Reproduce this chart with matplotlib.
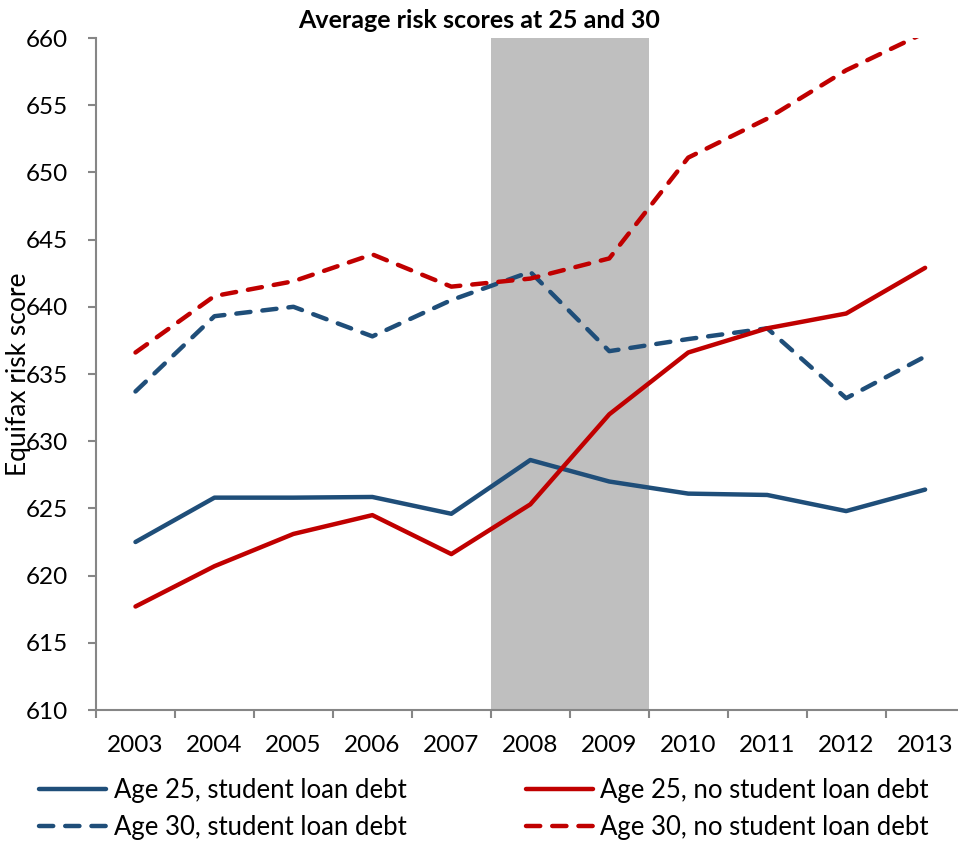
import matplotlib.pyplot as plt
from matplotlib.ticker import FixedLocator, NullFormatter

plt.rcParams['font.family'] = ['Lato', 'DejaVu Sans']

# Data
years = ['2003', '2004', '2005', '2006', '2007', '2008', '2009', '2010', '2011', '2012', '2013']
age25_debt = [622.5, 625.8, 625.8, 625.85, 624.6, 628.6, 627.0, 626.1, 626.0, 624.8, 626.4]
age25_nodebt = [617.7, 620.7, 623.1, 624.5, 621.6, 625.3, 632.0, 636.6, 638.4, 639.5, 642.9]
age30_debt = [633.7, 639.3, 640.0, 637.8, 640.5, 642.6, 636.7, 637.6, 638.4, 633.2, 636.3]
age30_nodebt = [636.6, 640.8, 641.9, 643.9, 641.5, 642.1, 643.6, 651.1, 654.0, 657.6, 660.4]
recession = ['2008', '2009']

blue = '#1F4E79'
red = '#C00000'
gray = '#868686'

fig = plt.figure(figsize=(9.58, 8.41), dpi=100)
ax = fig.add_axes([96 / 958, 131 / 841, 868.6 / 958, 672 / 841])

x = list(range(len(years)))
i0 = years.index(recession[0])
i1 = years.index(recession[-1])
ax.axvspan(i0 - 0.5, i1 + 0.5, color='#BFBFBF', lw=0, zorder=0)

lw = 3.2
dash = (3.2, 2.7)
ax.plot(x, age25_debt, color=blue, lw=lw, solid_capstyle='round', label='Age 25, student loan debt')
ax.plot(x, age30_debt, color=blue, lw=lw, dashes=dash, dash_capstyle='round', label='Age 30, student loan debt')
ax.plot(x, age25_nodebt, color=red, lw=lw, solid_capstyle='round', label='Age 25, no student loan debt')
ax.plot(x, age30_nodebt, color=red, lw=lw, dashes=dash, dash_capstyle='round', label='Age 30, no student loan debt')

ax.set_xlim(-0.5, len(years) - 0.5)
ax.set_ylim(610, 660)
ax.set_yticks(range(610, 661, 5))

# category ticks between labels, labels at centers
ax.xaxis.set_major_locator(FixedLocator([i - 0.5 for i in range(len(years) + 1)]))
ax.xaxis.set_major_formatter(NullFormatter())
ax.xaxis.set_minor_locator(FixedLocator(x))
ax.set_xticklabels(years, minor=True)
ax.tick_params(axis='x', which='major', length=6, width=1.5, color=gray)
ax.tick_params(axis='x', which='minor', length=0, pad=18, labelsize=17.5)
ax.tick_params(axis='y', length=6, width=1.5, color=gray, pad=14, labelsize=17.5)

for s in ['top', 'right']:
    ax.spines[s].set_visible(False)
for s in ['left', 'bottom']:
    ax.spines[s].set_color(gray)
    ax.spines[s].set_linewidth(1.5)

fig.text(0.5, 1 - 20 / 841, 'Average risk scores at 25 and 30', ha='center', va='center',
         fontsize=18, fontweight='bold')
fig.text(19 / 958, 1 - 374 / 841, 'Equifax risk score', rotation=90, ha='center', va='center',
         fontsize=19)

fig.legend(loc='center left', bbox_to_anchor=(39 / 958, 1 - 809 / 841), ncol=2, frameon=False,
           fontsize=18.5, handlelength=2.6, handletextpad=0.3, columnspacing=4.65,
           labelspacing=0.48, borderpad=0, borderaxespad=0)

fig.savefig('out.png', dpi=100)
